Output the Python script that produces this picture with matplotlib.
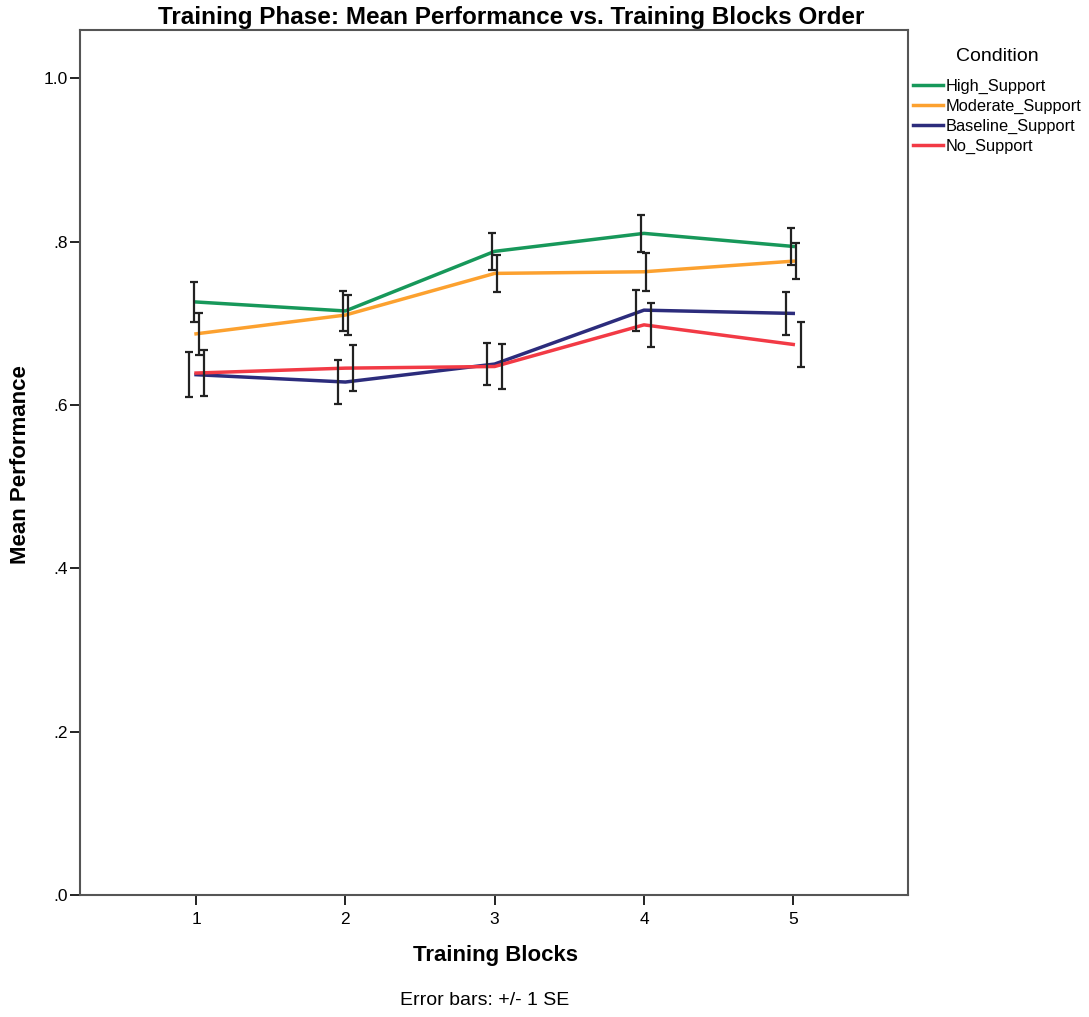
import numpy as np
import matplotlib
matplotlib.use("Agg")
import matplotlib.pyplot as plt

plt.rcParams['font.family'] = ['Liberation Sans', 'DejaVu Sans']

# === Data ===
blocks = [1, 2, 3, 4, 5]
conditions = ["High_Support", "Moderate_Support", "Baseline_Support", "No_Support"]
high_mean = [0.726, 0.715, 0.788, 0.810, 0.794]
high_se = [0.0245, 0.025, 0.023, 0.023, 0.023]
moderate_mean = [0.687, 0.710, 0.761, 0.763, 0.776]
moderate_se = [0.0255, 0.025, 0.023, 0.023, 0.022]
baseline_mean = [0.637, 0.628, 0.650, 0.716, 0.712]
baseline_se = [0.0275, 0.027, 0.026, 0.025, 0.026]
none_mean = [0.639, 0.645, 0.647, 0.698, 0.674]
none_se = [0.028, 0.028, 0.028, 0.027, 0.028]

means = [high_mean, moderate_mean, baseline_mean, none_mean]
ses = [high_se, moderate_se, baseline_se, none_se]
colors = ["#17985a", "#fca12f", "#2c2c7c", "#f23a45"]
# error bars are dodged per condition (alphabetical order in SPSS)
offsets = [-0.017, 0.017, -0.05, 0.05]

fig = plt.figure(figsize=(10.89, 10.17), dpi=100)
ax = fig.add_axes([0.0735, 0.12, 0.7605, 0.8505])

x = np.array(blocks, dtype=float)
for name, m, s, c, off in zip(conditions, means, ses, colors, offsets):
    ax.plot(x, m, color=c, lw=2.5, label=name, zorder=3)
    ax.errorbar(x + off, m, yerr=s, fmt='none', ecolor='#222222', elinewidth=1.6,
                capsize=3, capthick=1.6, zorder=4)

ax.set_xlim(0.223, 5.77)
ax.set_ylim(0, 1.059)
ax.set_xticks(blocks)
ax.set_xticklabels([str(b) for b in blocks])
ax.set_yticks([0, 0.2, 0.4, 0.6, 0.8, 1.0])
ax.set_yticklabels([".0", ".2", ".4", ".6", ".8", "1.0"])
ax.tick_params(axis='both', labelsize=12.5, length=7, width=1.4, color='#222222')
ax.tick_params(axis='x', pad=5)
ax.tick_params(axis='y', pad=1.5)

for sp in ax.spines.values():
    sp.set_color('#555555')
    sp.set_linewidth(1.5)

fig.text(0.469, 0.983, "Training Phase: Mean Performance vs. Training Blocks Order",
         ha='center', va='center', fontsize=17.5, fontweight='bold')
fig.text(0.455, 0.0605, "Training Blocks", ha='center', va='center',
         fontsize=16, fontweight='bold')
fig.text(0.019, 0.543, "Mean Performance", ha='center', va='center',
         rotation=90, fontsize=16, fontweight='bold')

leg = fig.legend(loc='upper left', bbox_to_anchor=(0.834, 0.958), frameon=False,
                 title="Condition", fontsize=11.8, title_fontsize=14,
                 handlelength=1.85, handletextpad=0.12, labelspacing=0.31,
                 borderaxespad=0.0, borderpad=0.3)
leg._legend_box.align = "center"
leg._legend_box.sep = 10

fig.text(0.445, 0.0165, "Error bars: +/- 1 SE", ha='center', va='center', fontsize=14)

fig.savefig("out.png", dpi=100, facecolor='white')
